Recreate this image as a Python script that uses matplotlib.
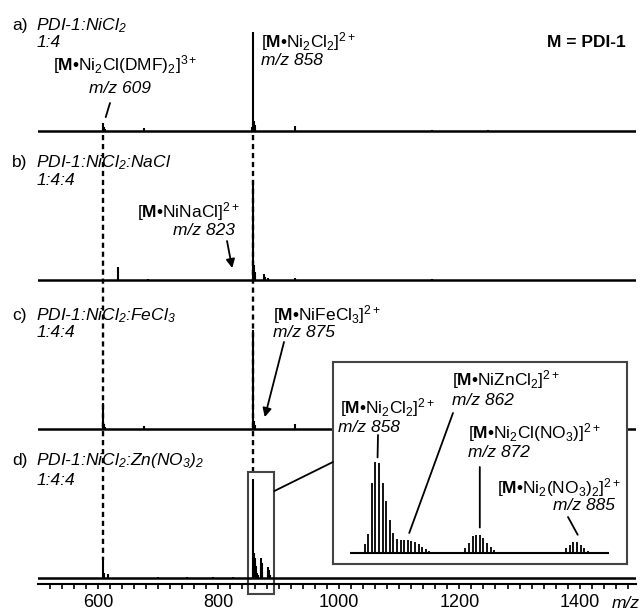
import matplotlib
matplotlib.use('Agg')
import matplotlib.pyplot as plt
from matplotlib.patches import Rectangle, ConnectionPatch
from matplotlib.ticker import MultipleLocator
from matplotlib.transforms import blended_transform_factory

plt.rcParams['font.family'] = 'Liberation Sans'
plt.rcParams['mathtext.fontset'] = 'custom'
plt.rcParams['mathtext.rm'] = 'Liberation Sans'
plt.rcParams['mathtext.it'] = 'Liberation Sans:italic'
plt.rcParams['mathtext.bf'] = 'Liberation Sans:bold'
plt.rcParams['mathtext.default'] = 'regular'

# peak lists: m/z and relative intensity (%)
a_mz = [608, 609, 610, 611, 677, 856, 857, 858, 859, 860, 861, 928, 1155, 1248]
a_int = [3, 8, 4, 2, 3, 4, 8, 100, 10, 6, 3, 5, 1, 1]

b_mz = [634, 683, 857, 858, 859, 860, 861, 876, 878, 883, 928, 1155]
b_int = [13, 1, 10, 100, 15, 8, 4, 6, 3, 2, 2, 1]

c_mz = [608, 609, 610, 611, 677, 857, 858, 859, 860, 928]
c_int = [4, 26, 5, 2, 3, 5, 100, 8, 4, 5]

d_mz = [609, 610, 617, 700, 748, 791, 825, 857, 858, 859, 860, 861, 862, 863,
        864, 866, 870, 871, 872, 873, 882, 883, 884, 885]
d_int = [18, 5, 4, 1, 1, 1, 1, 10, 100, 25, 20, 15, 12, 8,
         5, 3, 12, 20, 15, 6, 6, 11, 8, 3]

# zoomed isotope patterns (d), 0.5 m/z spacing
z1_mz = [856.0 + 0.5 * i for i in range(19)]
z1_int = [10, 21, 77, 100, 99, 77, 57, 36, 22, 15, 14, 14, 14, 13, 12, 10, 7, 4, 2]
z2_mz = [870.0 + 0.5 * i for i in range(9)]
z2_int = [5, 11, 19, 20, 20, 16, 11, 7, 3]
z3_mz = [884.0 + 0.5 * i for i in range(7)]
z3_int = [5, 9, 12, 12, 9, 5, 2]

panel_tags = ['a)', 'b)', 'c)', 'd)']
panel_names = ['PDI-1:NiCl$_2$', 'PDI-1:NiCl$_2$:NaCl', 'PDI-1:NiCl$_2$:FeCl$_3$',
               'PDI-1:NiCl$_2$:Zn(NO$_3$)$_2$']
panel_ratios = ['1:4', '1:4:4', '1:4:4', '1:4:4']
tick_labels = [600, 800, 1000, 1200, 1400]

W, H = 640, 610
FS = 12.5


def fx(x):
    return x / W


def fy(y):
    return 1 - y / H


fig = plt.figure(figsize=(6.4, 6.1), dpi=100)

MZ0 = 609 - (103.3 - 38) / 0.6024
MZ1 = 609 + (636 - 103.3) / 0.6024
PX = 0.99  # px per % in main panels

baselines = [131, 280, 429, 578]
title_y = [30, 167, 320, 465]
ratio_y = [47, 185, 337, 485]
spectra = [(a_mz, a_int), (b_mz, b_int), (c_mz, c_int), (d_mz, d_int)]

axes = []
for i, base in enumerate(baselines):
    ax = fig.add_axes([fx(38), fy(base + 3), 598 / W, 130 / H])
    ax.set_xlim(MZ0, MZ1)
    ax.set_ylim(-3 / PX, 127 / PX)
    ax.axis('off')
    ax.axhline(0, color='k', lw=1.8)
    mz, inten = spectra[i]
    ax.vlines(mz, 0, inten, color='k', lw=1.5)
    axes.append(ax)
    fig.text(fx(12), fy(title_y[i]), panel_tags[i], fontsize=FS, va='baseline')
    fig.text(fx(36), fy(title_y[i]), panel_names[i], fontsize=FS, va='baseline',
             style='italic')
    fig.text(fx(37), fy(ratio_y[i]), panel_ratios[i], fontsize=FS, va='baseline',
             style='italic')

ax_a, ax_b, ax_c, ax_d = axes

# dashed guide lines
trans = blended_transform_factory(ax_a.transData, fig.transFigure)
ax_a.plot([609, 609], [fy(135), fy(560)], transform=trans, color='k', lw=1.7,
          ls=(0, (2.2, 1.6)), clip_on=False)
ax_a.plot([858, 858], [fy(135), fy(472)], transform=trans, color='k', lw=1.7,
          ls=(0, (2.2, 1.6)), clip_on=False)

# labels panel a
fig.text(fx(53), fy(70), r'[$\mathbf{M}$•Ni$_2$Cl(DMF)$_2$]$^{3+}$', fontsize=FS, va='baseline')
fig.text(fx(89), fy(93), 'm/z 609', fontsize=FS, va='baseline', style='italic')
ax_a.annotate('', xy=(613, 14), xytext=(fx(110), fy(103)), textcoords='figure fraction',
              arrowprops=dict(arrowstyle='-', color='k', lw=1.3, shrinkA=0, shrinkB=0))
fig.text(fx(261), fy(47), r'[$\mathbf{M}$•Ni$_2$Cl$_2$]$^{2+}$', fontsize=FS, va='baseline')
fig.text(fx(261), fy(65), 'm/z 858', fontsize=FS, va='baseline', style='italic')
fig.text(fx(547), fy(47), 'M = PDI-1', fontsize=FS, va='baseline', weight='bold')

# panel b
fig.text(fx(137), fy(217), r'[$\mathbf{M}$•NiNaCl]$^{2+}$', fontsize=FS, va='baseline')
fig.text(fx(173), fy(235), 'm/z 823', fontsize=FS, va='baseline', style='italic')
ax_b.annotate('', xy=(823, 12), xytext=(fx(227), fy(241)), textcoords='figure fraction',
              arrowprops=dict(arrowstyle='-|>', color='k', lw=1.3, mutation_scale=13,
                              shrinkA=0, shrinkB=0))

# panel c
fig.text(fx(273), fy(320), r'[$\mathbf{M}$•NiFeCl$_3$]$^{2+}$', fontsize=FS, va='baseline')
fig.text(fx(273), fy(337), 'm/z 875', fontsize=FS, va='baseline', style='italic')
ax_c.annotate('', xy=(877, 12), xytext=(fx(284), fy(342)), textcoords='figure fraction',
              arrowprops=dict(arrowstyle='-|>', color='k', lw=1.3, mutation_scale=13,
                              shrinkA=0, shrinkB=0))

# x axis
ax_x = fig.add_axes([fx(38), fy(584), 598 / W, 1 / H])
ax_x.set_xlim(MZ0, MZ1)
ax_x.patch.set_visible(False)
for s in ['left', 'right', 'top']:
    ax_x.spines[s].set_visible(False)
ax_x.spines['bottom'].set_linewidth(1.5)
ax_x.set_yticks([])
ax_x.set_xticks(tick_labels)
ax_x.set_xticklabels([str(t) for t in tick_labels])
ax_x.xaxis.set_minor_locator(MultipleLocator(20))
ax_x.tick_params(axis='x', which='both', direction='out', length=3.5, width=1.2,
                 labelsize=13, pad=3.5)
fig.text(fx(612), fy(608), 'm/z', fontsize=FS, va='baseline', style='italic')

# zoom box in d
trans_d = blended_transform_factory(ax_d.transData, fig.transFigure)
ax_d.add_patch(Rectangle((849, fy(594)), 44, fy(472) - fy(594), transform=trans_d,
                         fill=False, edgecolor='#444444', lw=1.5, clip_on=False))

# inset
ax_in = fig.add_axes([fx(333), fy(564), 294 / W, 202 / H])
ax_in.set_xlim(858 - 46 / 7.2, 858 + 248 / 7.2)
ax_in.set_ylim(-11 / 0.91, 191 / 0.91)
ax_in.set_xticks([])
ax_in.set_yticks([])
for s in ax_in.spines.values():
    s.set_linewidth(1.5)
    s.set_edgecolor('#444444')
ax_in.hlines(0, 854, 890, color='k', lw=1.5)
for mz, inten in [(z1_mz, z1_int), (z2_mz, z2_int), (z3_mz, z3_int)]:
    ax_in.vlines(mz, 0, inten, color='k', lw=1.3)

con = ConnectionPatch(xyA=(893, fy(491)), coordsA=trans_d, xyB=(0, 0.505),
                      coordsB=ax_in.transAxes, color='k', lw=1.3)
fig.add_artist(con)

line_kw = dict(arrowstyle='-', color='k', lw=1.3, shrinkA=0, shrinkB=0)
fig.text(fx(340), fy(413), r'[$\mathbf{M}$•Ni$_2$Cl$_2$]$^{2+}$', fontsize=FS, va='baseline')
fig.text(fx(338), fy(432), 'm/z 858', fontsize=FS, va='baseline', style='italic')
ax_in.annotate('', xy=(857.8, 105), xytext=(fx(378), fy(435)), textcoords='figure fraction',
               arrowprops=line_kw)
fig.text(fx(452), fy(385), r'[$\mathbf{M}$•NiZnCl$_2$]$^{2+}$', fontsize=FS, va='baseline')
fig.text(fx(452), fy(405), 'm/z 862', fontsize=FS, va='baseline', style='italic')
ax_in.annotate('', xy=(862.2, 22), xytext=(fx(453), fy(413)), textcoords='figure fraction',
               arrowprops=line_kw)
fig.text(fx(468), fy(438), r'[$\mathbf{M}$•Ni$_2$Cl(NO$_3$)]$^{2+}$', fontsize=FS, va='baseline')
fig.text(fx(468), fy(457), 'm/z 872', fontsize=FS, va='baseline', style='italic')
ax_in.annotate('', xy=(872, 28), xytext=(fx(479.8), fy(467)), textcoords='figure fraction',
               arrowprops=line_kw)
fig.text(fx(497), fy(493), r'[$\mathbf{M}$•Ni$_2$(NO$_3$)$_2$]$^{2+}$', fontsize=FS, va='baseline')
fig.text(fx(553), fy(510), 'm/z 885', fontsize=FS, va='baseline', style='italic')
ax_in.annotate('', xy=(885.6, 20), xytext=(fx(568), fy(517)), textcoords='figure fraction',
               arrowprops=line_kw)

fig.savefig('out.png', dpi=100)
